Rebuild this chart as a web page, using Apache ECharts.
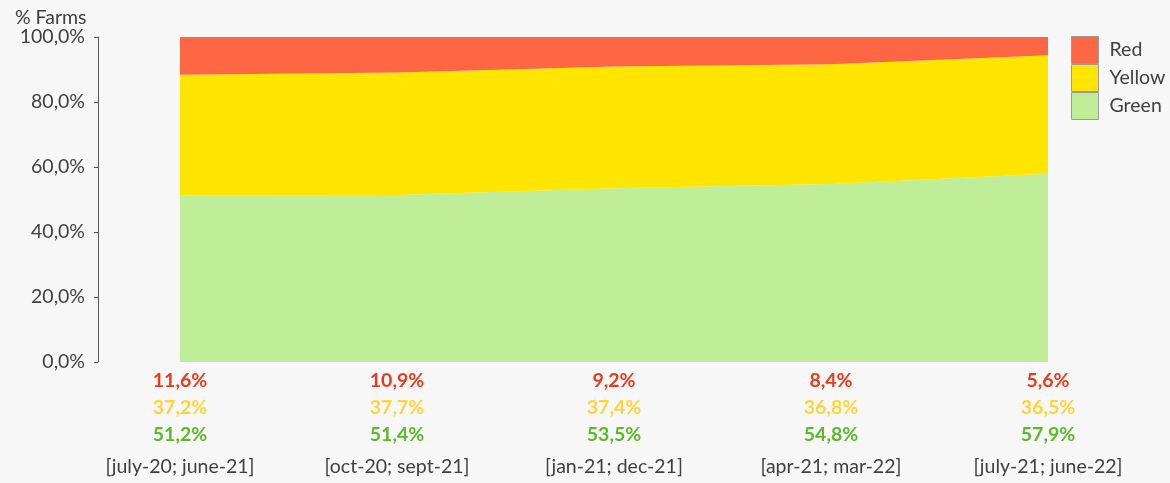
<!DOCTYPE html>
<html>
<head>
<meta charset="utf-8">
<script src="https://cdn.jsdelivr.net/npm/echarts@6/dist/echarts.min.js"></script>
<style>
  html, body { margin: 0; padding: 0; background: #f7f7f7; }
  #chart { width: 1170px; height: 483px; }
</style>
</head>
<body>
<div id="chart"></div>
<script>
// periods
var categories = ["[july-20; june-21]", "[oct-20; sept-21]", "[jan-21; dec-21]", "[apr-21; mar-22]", "[july-21; june-22]"];
// % of farms per class
var greenData = [51.2, 51.4, 53.5, 54.8, 57.9];
var yellowData = [37.2, 37.7, 37.4, 36.8, 36.5];
var redData = [11.6, 10.9, 9.2, 8.4, 5.6];
var yTicks = [0, 20, 40, 60, 80, 100];

var font = "Lato";
var fs = 19.5;

function pct(v) {
  return v.toFixed(1).replace(".", ",") + "%";
}

var chart = echarts.init(document.getElementById("chart"));
var option = {
  backgroundColor: "#f7f7f7",
  animation: false,
  textStyle: { fontFamily: font },
  title: {
    text: "% Farms",
    left: 10,
    top: 3,
    textStyle: { fontFamily: font, fontSize: fs, fontWeight: "normal", color: "#404040" }
  },
  legend: {
    orient: "vertical",
    left: 1071,
    top: 36,
    padding: 0,
    itemWidth: 27,
    itemHeight: 27,
    itemGap: 0,
    icon: "rect",
    data: ["Red", "Yellow", "Green"],
    itemStyle: { borderColor: "#9a9a9a", borderWidth: 1 },
    textStyle: { fontFamily: font, fontSize: fs, color: "#404040", padding: [0, 0, 0, 6] }
  },
  grid: { left: 180, right: 122, top: 37, bottom: 121 },
  xAxis: {
    type: "category",
    boundaryGap: false,
    data: categories,
    axisLine: { show: false },
    axisTick: { show: false },
    axisLabel: {
      interval: 0,
      margin: 5,
      formatter: function (val, i) {
        return "{r|" + pct(redData[i]) + "}\n{y|" + pct(yellowData[i]) + "}\n{g|" + pct(greenData[i]) + "}\n{c|" + val + "}";
      },
      rich: {
        r: { color: "#e63b1c", fontWeight: "bold", fontSize: fs, lineHeight: 27, fontFamily: font },
        y: { color: "#ffd43a", fontWeight: "bold", fontSize: fs, lineHeight: 27, fontFamily: font },
        g: { color: "#5cb92a", fontWeight: "bold", fontSize: fs, lineHeight: 27, fontFamily: font },
        c: { color: "#404040", fontSize: fs, lineHeight: 37, fontFamily: font }
      }
    }
  },
  yAxis: {
    type: "value",
    min: 0,
    max: 100,
    interval: 20,
    offset: 82,
    splitLine: { show: false },
    axisLine: { show: true, lineStyle: { color: "#595959", width: 1 } },
    axisTick: { show: true, length: 4, lineStyle: { color: "#595959" } },
    axisLabel: {
      margin: 13,
      fontSize: fs,
      color: "#404040",
      fontFamily: font,
      formatter: function (v) { return yTicks.indexOf(v) >= 0 ? pct(v) : ""; }
    }
  },
  series: [
    {
      name: "Green", type: "line", stack: "all", data: greenData,
      symbol: "none", lineStyle: { width: 0 },
      itemStyle: { color: "#c0ee98" },
      areaStyle: { color: "#c0ee98", opacity: 1 }
    },
    {
      name: "Yellow", type: "line", stack: "all", data: yellowData,
      symbol: "none", lineStyle: { width: 0 },
      itemStyle: { color: "#ffe500" },
      areaStyle: { color: "#ffe500", opacity: 1 }
    },
    {
      name: "Red", type: "line", stack: "all", data: redData,
      symbol: "none", lineStyle: { width: 0 },
      itemStyle: { color: "#ff6644" },
      areaStyle: { color: "#ff6644", opacity: 1 }
    }
  ]
};
chart.setOption(option);
</script>
</body>
</html>
